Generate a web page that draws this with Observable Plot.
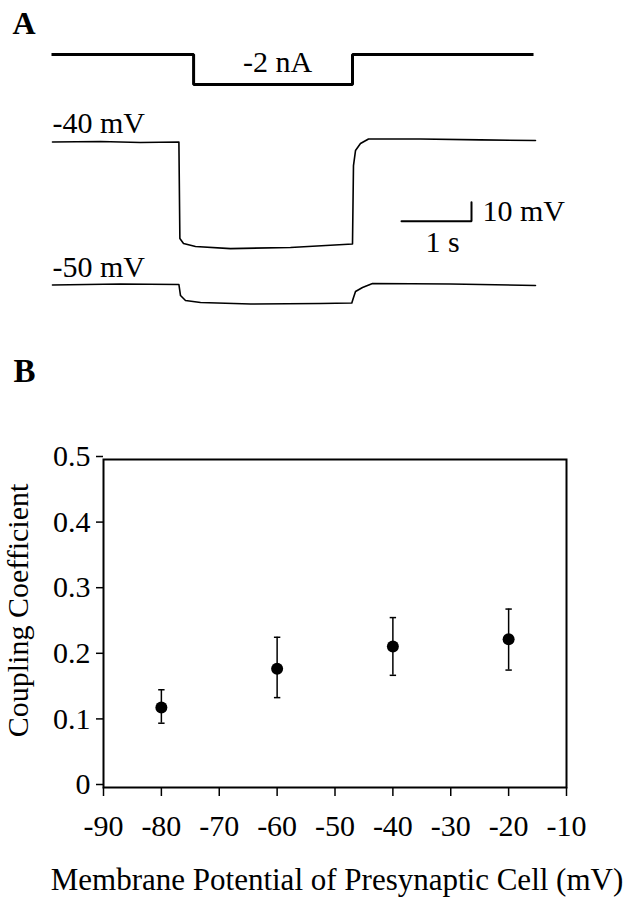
<!DOCTYPE html>
<html>
<head>
<meta charset="utf-8">
<script src="https://cdn.jsdelivr.net/npm/d3@7"></script>
<script src="https://cdn.jsdelivr.net/npm/@observablehq/plot@0.6"></script>
<style>
  body { margin: 0; background: #fff; }
  #fig { position: relative; width: 627px; height: 899px; overflow: hidden; font-family: "Liberation Serif", "Times New Roman", Times, serif; }
  #fig svg { position: absolute; left: 0; }
  #fig svg text { font-family: "Liberation Serif", "Times New Roman", Times, serif; }
</style>
</head>
<body>
<div id="fig"></div>
<script>
// ---------- Panel A data ----------
// injected current (nA) vs time (s)
const currentTime = [0, 2.03, 4.30, 6.886];
const currentNA   = [0, -2, 0, 0];
const currentLabel = "-2 nA";

// voltage trace from holding potential -40 mV (time s, membrane potential mV)
const trace40Time = [0.014, 0.70, 1.27, 1.820, 1.834, 1.886, 2.057, 2.557, 3.414, 4.300, 4.314, 4.343, 4.414, 4.529, 5.271, 6.129, 6.914];
const trace40mV   = [-40.0, -39.7, -40.3, -40.0, -90.8, -93.4, -95.0, -96.1, -95.5, -93.7, -52.4, -44.5, -40.8, -38.4, -38.4, -38.9, -39.2];

// voltage trace from holding potential -50 mV
const trace50Time = [0.014, 0.986, 1.820, 1.843, 1.914, 2.129, 2.843, 3.843, 4.290, 4.310, 4.343, 4.443, 4.586, 5.700, 6.914];
const trace50mV   = [-50.3, -49.7, -50.0, -55.8, -58.4, -59.5, -60.3, -60.0, -59.7, -57.4, -53.7, -51.6, -49.5, -49.7, -50.5];

const traceLabels = ["-40 mV", "-50 mV"];
const holdingMV = [-40, -50];

// scale bar: 1 s by 10 mV
const scaleBarTime = [5, 6];
const scaleBarBaseMV = -81.7;
const scaleBarMV = 10;
const scaleBarLabels = ["1 s", "10 mV"];

// ---------- Panel B data ----------
const potentials = [-80, -60, -40, -20];
const coupling   = [0.122, 0.181, 0.215, 0.226];
const errLow     = [0.098, 0.137, 0.171, 0.179];
const errHigh    = [0.149, 0.229, 0.259, 0.272];
const xTicks = [-90, -80, -70, -60, -50, -40, -30, -20, -10];
const yTicks = [0, 0.1, 0.2, 0.3, 0.4, 0.5];
const yTickLabels = ["0", "0.1", "0.2", "0.3", "0.4", "0.5"];
const xLabel = "Membrane Potential of Presynaptic Cell (mV)";
const yLabel = "Coupling Coefficient";

// ---------- build ----------
const FONT = '"Liberation Serif", "Times New Roman", Times, serif';
const fig = document.getElementById("fig");
const xA = {domain: [0, 7], range: [51, 541], axis: null};
const baseStyle = {fontFamily: FONT, fontSize: "30px", background: "transparent", overflow: "visible", color: "black"};

function place(svg, top) { svg.style.top = top + "px"; fig.appendChild(svg); }

// current trace
const currentRows = currentTime.map((t, i) => ({t, i: currentNA[i]}));
place(Plot.plot({
  width: 627, height: 320, margin: 0, style: baseStyle,
  x: xA,
  y: {domain: [-2, 0], range: [84, 54], axis: null},
  marks: [
    Plot.line(currentRows, {x: "t", y: "i", curve: "step-after", stroke: "black", strokeWidth: 3, strokeLinejoin: "miter", strokeLinecap: "butt"}),
    Plot.text([currentLabel], {x: 3.23, y: -2, text: d => d, textAnchor: "middle", lineAnchor: "bottom", dy: -13, fontSize: 30}),
    Plot.text(["A"], {frameAnchor: "top-left", dx: 12, dy: 33, lineAnchor: "bottom", textAnchor: "start", fontWeight: "bold", fontSize: 32})
  ]
}), 0);

// -40 mV trace + scale bar
const rows40 = trace40Time.map((t, i) => ({t, v: trace40mV[i]}));
const barRows = [
  {t: scaleBarTime[0], v: scaleBarBaseMV},
  {t: scaleBarTime[1], v: scaleBarBaseMV},
  {t: scaleBarTime[1], v: scaleBarBaseMV + scaleBarMV}
];
place(Plot.plot({
  width: 627, height: 320, margin: 0, style: baseStyle,
  x: xA,
  y: {domain: [-40, -90], range: [141.5, 236.5], axis: null},
  marks: [
    Plot.line(rows40, {x: "t", y: "v", stroke: "black", strokeWidth: 1.6}),
    Plot.text([{t: 0, v: holdingMV[0], s: traceLabels[0]}], {x: "t", y: "v", text: "s", textAnchor: "start", lineAnchor: "bottom", dx: 1, dy: -9.5, fontSize: 30}),
    Plot.line(barRows, {x: "t", y: "v", stroke: "black", strokeWidth: 2, strokeLinejoin: "miter"}),
    Plot.text([{t: (scaleBarTime[0] + scaleBarTime[1]) / 2, v: scaleBarBaseMV, s: scaleBarLabels[0]}], {x: "t", y: "v", text: "s", textAnchor: "middle", lineAnchor: "bottom", dx: 6, dy: 31, fontSize: 30}),
    Plot.text([{t: scaleBarTime[1], v: scaleBarBaseMV, s: scaleBarLabels[1]}], {x: "t", y: "v", text: "s", textAnchor: "start", lineAnchor: "bottom", dx: 11, dy: 0, fontSize: 30})
  ]
}), 0);

// -50 mV trace
const rows50 = trace50Time.map((t, i) => ({t, v: trace50mV[i]}));
place(Plot.plot({
  width: 627, height: 320, margin: 0, style: baseStyle,
  x: xA,
  y: {domain: [-50, -60], range: [284, 303], axis: null},
  marks: [
    Plot.line(rows50, {x: "t", y: "v", stroke: "black", strokeWidth: 1.6}),
    Plot.text([{t: 0, v: holdingMV[1], s: traceLabels[1]}], {x: "t", y: "v", text: "s", textAnchor: "start", lineAnchor: "bottom", dx: 1, dy: -8, fontSize: 30})
  ]
}), 0);

// Panel B
const rowsB = potentials.map((p, i) => ({p, c: coupling[i], lo: errLow[i], hi: errHigh[i]}));
const capSymbol = {draw(ctx) { ctx.moveTo(-3.2, 0); ctx.lineTo(3.2, 0); }};
place(Plot.plot({
  width: 627, height: 570,
  marginLeft: 103, marginRight: 61, marginTop: 129, marginBottom: 113,
  style: baseStyle,
  x: {domain: [-90, -10], axis: null},
  y: {domain: [0, 0.5], axis: null},
  marks: [
    Plot.frame({stroke: "black", strokeWidth: 2}),
    Plot.axisX({ticks: xTicks, tickFormat: d => String(d), tickSize: 9, tickPadding: 18, strokeWidth: 1.5, fontSize: 30, label: null}),
    Plot.axisY({ticks: yTicks, tickFormat: (d, i) => yTickLabels[i], tickSize: 7, tickPadding: 6, strokeWidth: 1.5, fontSize: 30, dy: -3, label: null}),
    Plot.ruleX(rowsB, {x: "p", y1: "lo", y2: "hi", stroke: "black", strokeWidth: 1.5}),
    Plot.dot(rowsB, {x: "p", y: "lo", symbol: capSymbol, stroke: "black", strokeWidth: 1.5, fill: "none"}),
    Plot.dot(rowsB, {x: "p", y: "hi", symbol: capSymbol, stroke: "black", strokeWidth: 1.5, fill: "none"}),
    Plot.dot(rowsB, {x: "p", y: "c", r: 6, fill: "black", stroke: null}),
    Plot.text([xLabel], {frameAnchor: "bottom", dx: 2, dy: 102, lineAnchor: "bottom", textAnchor: "middle", fontSize: 31}),
    Plot.text([yLabel], {frameAnchor: "left", rotate: -90, dx: -76, dy: -13, lineAnchor: "bottom", textAnchor: "middle", fontSize: 30}),
    Plot.text(["B"], {frameAnchor: "top-left", dx: -90, dy: -78, lineAnchor: "bottom", textAnchor: "start", fontWeight: "bold", fontSize: 33})
  ]
}), 330);
</script>
</body>
</html>
